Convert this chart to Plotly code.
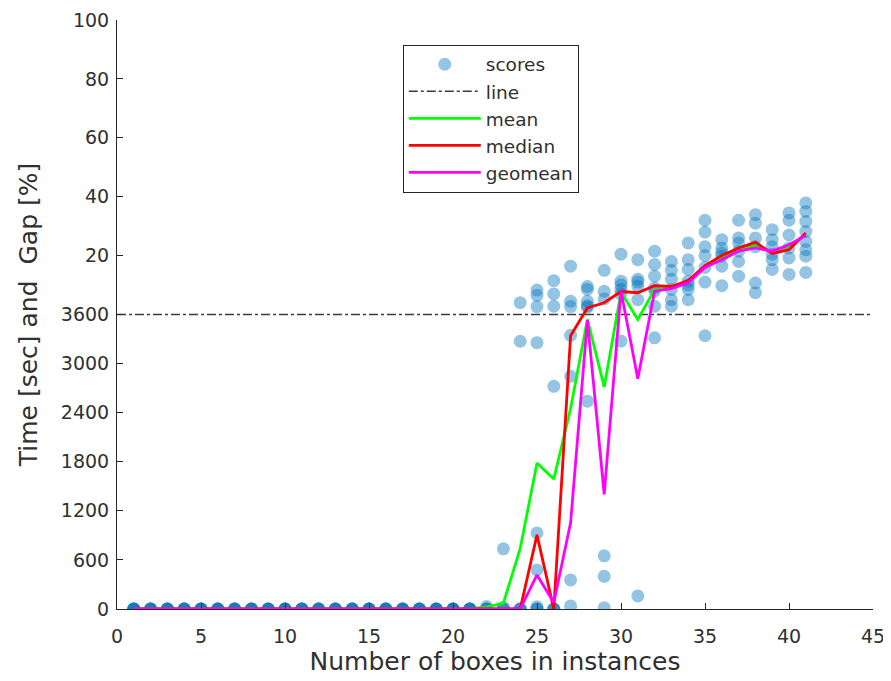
import plotly.graph_objects as go

# ---------------- data ----------------
# Mixed axis: plain numbers are times in seconds (0..3600),
# strings ending in "%" are optimality gaps (0..100 %) stacked above 3600.
boxes = list(range(1, 42))

# scatter "scores": per instance-size x, list of values
score_x_time = (
    [x for x in range(1, 22) for _ in range(5)]
    + [22, 22, 22, 22, 23, 23, 23, 23, 24, 24, 24, 24,
       25, 25, 25, 25, 25, 25, 26, 26, 26, 26,
       27, 27, 27, 27, 28, 29, 29, 29, 30, 31, 32, 35]
)
score_time_sec = (
    [0] * (21 * 5)
    + [0, 0, 0, 30, 735, 0, 0, 20, 3273, 0, 0, 0,
       3255, 930, 477, 28, 0, 0, 2722, 0, 0, 0,
       3345, 2845, 355, 37, 2540, 650, 400, 15, 3275, 160, 3315, 3340]
)
score_x_gap = (
    [24, 25, 25, 25, 26, 26, 26, 27, 27, 27,
     28, 28, 28, 28, 28, 29, 29, 29,
     30, 30, 30, 30, 30, 31, 31, 31, 31, 31,
     32, 32, 32, 32, 32, 32, 33, 33, 33, 33, 33, 33,
     34, 34, 34, 34, 34, 34, 34, 35, 35, 35, 35, 35, 35,
     36, 36, 36, 36, 36, 36, 37, 37, 37, 37, 37, 37,
     38, 38, 38, 38, 38, 38, 39, 39, 39, 39, 39, 39,
     40, 40, 40, 40, 40, 40, 41, 41, 41, 41, 41, 41, 41, 41]
)
score_gap_pct = (
    [4, 8.3, 6.5, 2.7, 11.5, 7, 2.8, 16.4, 4.5, 2.7,
     9.5, 8.5, 4.5, 3, 2.5, 15, 7.9, 5.3,
     20.5, 11.3, 10, 8.5, 7, 18.6, 12, 11, 9.6, 5,
     21.5, 17, 13, 9, 8, 2.8, 18, 15, 12, 8.5, 5, 2.8,
     24.3, 18.6, 15.3, 11.3, 10, 8.5, 5, 32, 28, 23, 20, 16, 11,
     25.4, 22.6, 21, 19.8, 16.4, 9.8, 32, 26, 24.3, 21.5, 18, 13,
     33.9, 31, 26, 23, 10.7, 7.4, 28.8, 25.4, 23, 20.5, 18.6, 15.3,
     34.5, 32, 27, 22.6, 19.2, 13.6, 37.9, 35, 31.6, 28.2, 24.8, 22, 19.8, 14.3]
)

mean_vals = [0] * 21 + [25, 70, 740, 1784, 1588, 2450, 3540, 2715, "7.6%", 3540,
                        "8.5%", "9.2%", "11.2%", "16.3%", "19.4%", "22%", "23.5%",
                        "21.1%", "23%", "27.2%"]
median_vals = [0] * 24 + [906, 0, 3340, "2.2%", "4%", "7.8%", "7.4%", "9.8%", "9.5%",
                          "11.5%", "16.6%", "20%", "22.6%", "24.5%", "20.7%", "22%", "27.7%"]
geomean_vals = [0] * 24 + [416, 80, 1053, 3530, 1400, "8%", 2815, "7.9%", "8.8%",
                           "10.8%", "16%", "18.6%", "21.5%", "22.6%", "21.5%", "23.7%", "26.8%"]

time_limit = 3600
y_tick_labels = ["0", "600", "1200", "1800", "2400", "3000", "3600", "20", "40", "60", "80", "100"]
x_ticks = [0, 5, 10, 15, 20, 25, 30, 35, 40, 45]


def gap_to_axis(g):
    return time_limit + g / 100.0 * time_limit


def to_axis(v):
    if isinstance(v, str):
        return gap_to_axis(float(v.rstrip("%")))
    return float(v)


y_tick_vals = [0, 600, 1200, 1800, 2400, 3000, 3600] + [gap_to_axis(g) for g in (20, 40, 60, 80, 100)]

FONT = "DejaVu Sans"
AX = "#262626"
TXT = "#303030"

fig = go.Figure()
fig.add_trace(go.Scatter(
    x=score_x_time + score_x_gap,
    y=[float(t) for t in score_time_sec] + [gap_to_axis(g) for g in score_gap_pct],
    mode="markers", name="scores",
    marker=dict(size=13, color="rgba(0,114,189,0.42)", line=dict(width=0)),
))
fig.add_trace(go.Scatter(
    x=[0, 45], y=[time_limit, time_limit], mode="lines", name="line",
    line=dict(color="#3a3a3a", width=1.4, dash="dashdot"),
))
for name, vals, col in (("mean", mean_vals, "#00FF00"),
                        ("median", median_vals, "#FF0000"),
                        ("geomean", geomean_vals, "#FF00FF")):
    fig.add_trace(go.Scatter(
        x=boxes, y=[to_axis(v) for v in vals], mode="lines", name=name,
        line=dict(color=col, width=2.8),
    ))

# the page body adds an 8px offset, so the figure is 8px smaller than the window
fig.update_layout(
    width=883, height=673,
    margin=dict(l=109, r=18, t=12, b=72, autoexpand=False),
    paper_bgcolor="white", plot_bgcolor="white",
    font=dict(family=FONT, size=19, color=TXT),
    showlegend=True,
    legend=dict(x=0.378, y=0.958, xanchor="left", yanchor="top",
                bgcolor="white", bordercolor=AX, borderwidth=1,
                font=dict(family=FONT, size=18.5, color=TXT),
                itemwidth=72, tracegroupgap=0),
)
fig.update_xaxes(
    range=[0, 45], tickvals=x_ticks, ticktext=[str(v) for v in x_ticks],
    showline=True, linecolor=AX, linewidth=1, mirror=False,
    ticks="inside", ticklen=6, tickcolor=AX, tickwidth=1,
    showgrid=False, zeroline=False, automargin=False,
    tickfont=dict(family=FONT, size=19, color=TXT), ticklabelstandoff=10,
    title=dict(text="Number of boxes in instances", font=dict(family=FONT, size=25, color=TXT), standoff=6),
)
fig.update_yaxes(
    range=[0, 7200], tickvals=y_tick_vals, ticktext=y_tick_labels,
    showline=True, linecolor=AX, linewidth=1, mirror=False,
    ticks="inside", ticklen=6, tickcolor=AX, tickwidth=1,
    showgrid=False, zeroline=False, automargin=False,
    tickfont=dict(family=FONT, size=19, color=TXT), ticklabelstandoff=3,
    title=dict(text="Time [sec] and  Gap [%]", font=dict(family=FONT, size=25, color=TXT), standoff=16),
)

fig.write_html("out.html")
